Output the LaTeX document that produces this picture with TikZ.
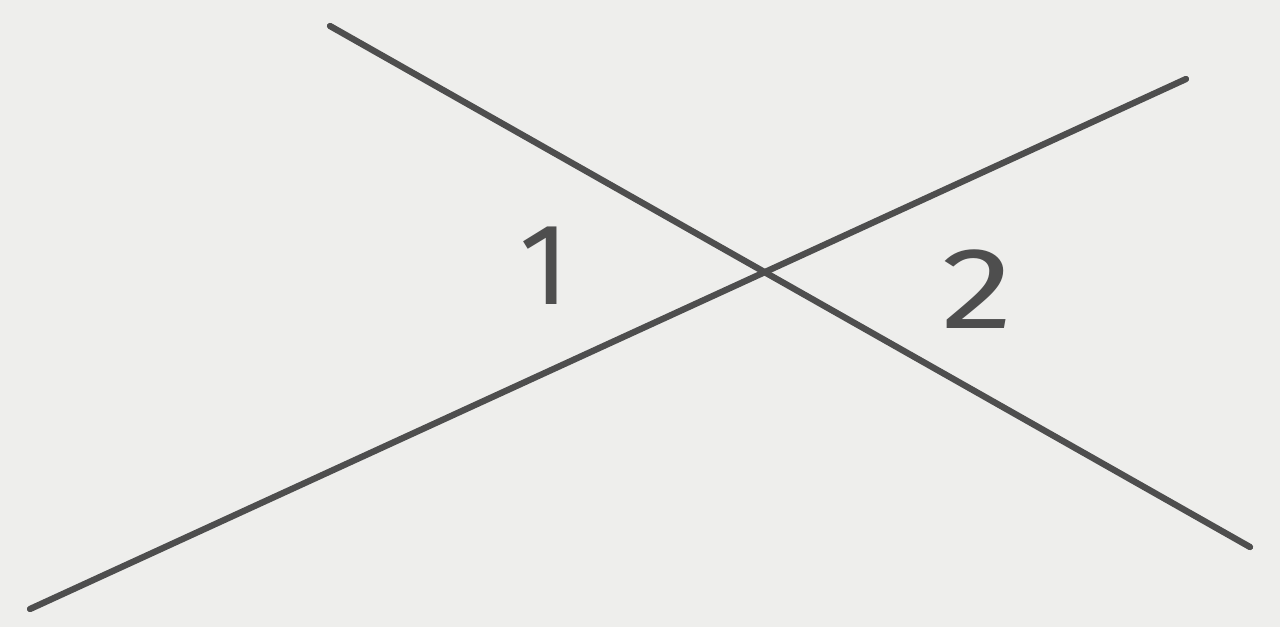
\documentclass[tikz,border=0pt]{standalone}
\usepackage{tikz}
\usepackage{fontspec}
\usetikzlibrary{positioning}
\newfontfamily\handfont{Fira Sans}
\definecolor{paper}{RGB}{238,238,236}
\definecolor{pencil}{RGB}{78,78,78}

\begin{document}
\begin{tikzpicture}[
    x=0.02cm, y=-0.02cm,
    stroke/.style={draw=pencil, line width=3.6pt, line cap=round},
    num/.style={text=pencil, font=\handfont\fontsize{66}{66}\selectfont, inner sep=0pt}
]
% Paper
\fill[paper] (0,0) rectangle (1280,627);
\useasboundingbox (0,0) rectangle (1280,627);

% Line ends
\coordinate (aTop) at (330,26);
\coordinate (aEnd) at (1250,547);
\coordinate (bLow) at (30,609);
\coordinate (bEnd) at (1186,79);

% Lines
\draw[stroke] (aTop) -- (aEnd);
\draw[stroke] (bLow) -- (bEnd);

% Labels
\node[num] (one) at (545,266) {1};
\node[num, xscale=1.25] (two) at (977,289) {2};

\end{tikzpicture}
\end{document}
